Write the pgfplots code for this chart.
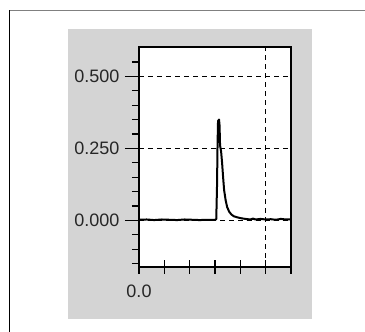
\documentclass[border=0pt]{standalone}
\usepackage{pgfplots}
\pgfplotsset{compat=1.18}
\usepackage{fontspec}
\setmainfont{Liberation Sans}
\definecolor{panel}{RGB}{212,212,212}
\definecolor{topline}{RGB}{128,128,128}
\begin{document}
\begin{tikzpicture}
\useasboundingbox (0pt,0pt) rectangle (365pt,332pt);
\fill[white] (0pt,0pt) rectangle (365pt,332pt);
\fill[panel] (67.7pt,13pt) rectangle (312pt,303pt);
\draw[line width=1.5pt, topline] (9pt,321.3pt) -- (365pt,321.3pt);
\draw[line width=1.2pt, black] (9.6pt,0pt) -- (9.6pt,322pt);
\begin{axis}[
  at={(139pt,65pt)}, anchor=south west,
  scale only axis, width=152pt, height=220pt,
  xmin=0, xmax=6, ymin=-0.162, ymax=0.602,
  axis background/.style={fill=white},
  axis line style={line width=1.1pt, black},
  xtick={0,1,2,3,4,5,6},
  xticklabels={0.0,,,,,,},
  ytick={0,0.25,0.5},
  yticklabels={0.000,0.250,0.500},
  minor ytick={-0.15,-0.1,-0.05,0.05,0.1,0.15,0.2,0.3,0.35,0.4,0.45,0.55},
  ytick align=outside,
  xtick align=center,
  major tick length=14pt,
  minor tick length=7pt,
  every tick/.style={black, line width=1.2pt},
  xtick pos=bottom, ytick pos=left,
  tick label style={font=\fontsize{18}{20}\selectfont, text=black!85},
  y tick label style={xshift=-2pt},
  x tick label style={anchor=north, yshift=-7pt},
  ymajorgrids,
  extra x ticks={5},
  extra x tick labels={},
  extra x tick style={grid=major},
  major grid style={black, line width=1.3pt, dash pattern=on 5pt off 4pt},
]
\draw[line width=2.2pt, black] (rel axis cs:0,0) -- (rel axis cs:0,1);
\draw[line width=1.6pt, black] (rel axis cs:0,0) -- (rel axis cs:1,0);
\addplot[black, line width=2pt, line join=round] coordinates {
(0,0.002) (0.3,0.003) (0.6,0.001) (0.9,0.003) (1.2,0.002) (1.5,0.001)
(1.8,0.003) (2.1,0.002) (2.4,0.001) (2.7,0.002) (3.0,0.002) (3.05,0.004)
(3.08,0.12) (3.1,0.26) (3.12,0.345) (3.16,0.35) (3.18,0.33) (3.2,0.26)
(3.24,0.24) (3.28,0.2) (3.32,0.15) (3.36,0.105) (3.42,0.07) (3.48,0.046)
(3.56,0.03) (3.65,0.02) (3.75,0.014) (3.9,0.01) (4.05,0.007) (4.2,0.005)
(4.4,0.003) (4.5,0.006) (4.6,0.003) (4.8,0.005) (5.0,0.003) (5.2,0.004)
(5.4,0.002) (5.6,0.005) (5.8,0.003) (6.0,0.003)
};
\end{axis}
\end{tikzpicture}
\end{document}
